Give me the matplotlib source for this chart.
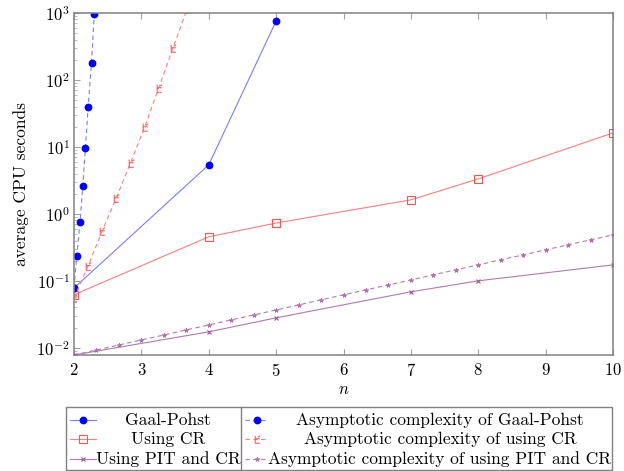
import matplotlib
matplotlib.use('Agg')
import matplotlib.pyplot as plt
from matplotlib.lines import Line2D
from matplotlib.patches import Rectangle
from matplotlib.path import Path
from matplotlib.ticker import LogLocator, NullFormatter

# データ
n_gp = [2, 4, 5]
t_gp = [0.078, 5.4, 760]

n_cr = [2, 4, 5, 7, 8, 10]
t_cr = [0.062, 0.454, 0.73, 1.62, 3.33, 16.2]

n_pit = [2, 4, 5, 7, 8, 10]
t_pit = [0.0078, 0.0173, 0.028, 0.0685, 0.10, 0.173]

n_gp_asym = [2, 2.04, 2.09, 2.13, 2.17, 2.21, 2.26, 2.30]
t_gp_asym = [0.078, 0.231, 0.752, 2.59, 9.77, 39.9, 181, 955]

n_cr_asym = [2, 2.21, 2.42, 2.63, 2.84, 3.05, 3.26, 3.47, 3.68]
t_cr_asym = [0.055, 0.168, 0.557, 1.75, 5.83, 19.9, 76.8, 303, 1150]

n_pit_asym = [2, 2.333, 2.667, 3, 3.333, 3.667, 4, 4.333, 4.667, 5, 5.333, 5.667,
              6, 6.333, 6.667, 7, 7.333, 7.667, 8, 8.333, 8.667, 9, 9.333, 9.667, 10]
t_pit_asym = [0.0078, 0.00927, 0.0110, 0.0131, 0.0155, 0.0185, 0.0219, 0.0261, 0.0309,
              0.0367, 0.0436, 0.0519, 0.0617, 0.0731, 0.0869, 0.103, 0.123, 0.146,
              0.173, 0.206, 0.244, 0.290, 0.345, 0.410, 0.486]

labels = ['Gaal-Pohst', 'Using CR', 'Using PIT and CR',
          'Asymptotic complexity of Gaal-Pohst',
          'Asymptotic complexity of using CR',
          'Asymptotic complexity of using PIT and CR']

plt.rcParams['font.family'] = 'serif'
plt.rcParams['font.serif'] = ['cmr10']
plt.rcParams['mathtext.fontset'] = 'cm'
plt.rcParams['axes.formatter.use_mathtext'] = True

# 変なマーカー（赤い破線用）
odd_mark = Path([(-0.6, 1), (-0.6, -1), (0.6, -1), (-0.6, 0.2), (0.6, 0.2), (0.1, 0.6), (0.7, 1.0)],
                [Path.MOVETO, Path.LINETO, Path.LINETO, Path.MOVETO, Path.LINETO, Path.MOVETO, Path.LINETO])

styles = [
    dict(color='#7c7cff', ls='-', lw=0.8, marker='o', ms=4.6, mfc='#0000ff', mec='#0000ff'),
    dict(color='#ff7f7f', ls='-', lw=0.8, marker='s', ms=5.2, mfc='none', mec='#ff5050', mew=0.8),
    dict(color='#b07ab0', ls='-', lw=0.8, marker='x', ms=3.2, mec='#a050a0', mew=0.8),
    dict(color='#7c7cff', ls=(0, (4, 3)), lw=0.8, marker='o', ms=4.6, mfc='#0000ff', mec='#0000ff'),
    dict(color='#ff7f7f', ls=(0, (4, 3)), lw=0.8, marker=odd_mark, ms=5.5, mfc='none', mec='#ff6060', mew=0.8),
    dict(color='#b07ab0', ls=(0, (4, 3)), lw=0.8, marker=(5, 2, 0), ms=3.2, mec='#b070b0', mew=0.7),
]
series = [(n_gp, t_gp), (n_cr, t_cr), (n_pit, t_pit),
          (n_gp_asym, t_gp_asym), (n_cr_asym, t_cr_asym), (n_pit_asym, t_pit_asym)]

fig = plt.figure(figsize=(6.24, 4.71), dpi=100)
ax = fig.add_axes([74 / 624, 116 / 471, 539 / 624, 342 / 471])

for (xs, ys), st in zip(series, styles):
    ax.plot(xs, ys, clip_on=True, **st)

ax.set_yscale('log')
ax.set_xlim(2, 10)
ax.set_ylim(0.0078, 1000)
ax.set_xticks(range(2, 11))
ax.yaxis.set_major_locator(LogLocator(base=10, numticks=10))
ax.yaxis.set_minor_locator(LogLocator(base=10, subs=range(2, 10), numticks=20))
ax.yaxis.set_minor_formatter(NullFormatter())

for s in ax.spines.values():
    s.set_color('#808080')
    s.set_linewidth(1.1)
ax.tick_params(axis='x', which='major', direction='in', top=True, length=4, color='#a0a0a0', labelsize=12, pad=5)
ax.tick_params(axis='y', which='major', direction='in', right=False, length=4, color='#a0a0a0', labelsize=12, pad=3)
ax.tick_params(axis='y', which='minor', direction='in', right=False, length=2.5, color='#b0b0b0')

ax.set_xlabel('$n$', fontsize=12, labelpad=2)
ax.set_ylabel('average CPU seconds', fontsize=12.5, labelpad=5)

# 凡例（pgfplots風に手で描く）
H, W = 471.0, 624.0
box_l, box_r, box_t, box_b = 66, 612, 407, 470
fig.add_artist(Rectangle((box_l / W, 1 - box_b / H), (box_r - box_l) / W, (box_b - box_t) / H,
                         transform=fig.transFigure, fill=False, ec='#808080', lw=1.0))
div_x = 241
fig.add_artist(Line2D([div_x / W, div_x / W], [1 - box_t / H, 1 - box_b / H],
                      transform=fig.transFigure, color='#808080', lw=1.0))
rows = [420, 439, 459]
col_handle = [(70, 96), (245, 268)]
col_text = [168, 440]
for i, (lab, st) in enumerate(zip(labels, styles)):
    c, r = i // 3, i % 3
    x0, x1 = col_handle[c]
    y = 1 - rows[r] / H
    xs = [x0 / W, (x0 + x1) / 2 / W, x1 / W]
    fig.add_artist(Line2D(xs, [y, y, y], transform=fig.transFigure, markevery=[1], **st))
    fig.text(col_text[c] / W, y, lab, ha='center', va='center', fontsize=12.5)

fig.savefig('out.png', dpi=100)
